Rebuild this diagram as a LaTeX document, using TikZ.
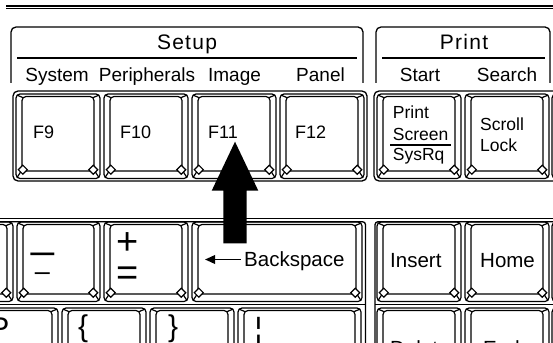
\documentclass[tikz,border=0pt]{standalone}
\usepackage{fontspec}
\setmainfont{Liberation Sans}
\usetikzlibrary{arrows.meta,calc}
\newcommand\kbkey[4]{%
  \draw[keyline,rounded corners=4pt] (#1,#2) rectangle (#3,#4);
  \draw[keyline,rounded corners=4pt] (#1+6,#2+2.5) rectangle (#3-6,#4-7.5);
  \draw[keyline] (#1+1.2,#2+1.2) -- (#1+7.2,#2+3.7);
  \draw[keyline] (#3-1.2,#2+1.2) -- (#3-7.2,#2+3.7);
  \draw[keyline] (#1+1.2,#4-1.2) -- (#1+4.6,#4-6.5);
  \draw[keyline] (#3-1.2,#4-1.2) -- (#3-4.6,#4-6.5);
  \filldraw[keyline,fill=white] (#1+2.3,#4-8.8) -- (#1+6.8,#4-4.3) -- (#1+11.3,#4-8.8) -- (#1+6.8,#4-13.3) -- cycle;
  \filldraw[keyline,fill=white] (#3-2.3,#4-8.8) -- (#3-6.8,#4-4.3) -- (#3-11.3,#4-8.8) -- (#3-6.8,#4-13.3) -- cycle;
}
\begin{document}
\begin{tikzpicture}[x=1pt,y=-1pt,
  keyline/.style={line width=1.2pt,black},
  frame/.style={line width=1.3pt,black},
  sep/.style={line width=1.9pt,black},
  lbl/.style={inner sep=0pt,font=\fontsize{19}{19}\selectfont},
  head/.style={inner sep=0pt,font=\fontsize{21}{21}\selectfont\addfontfeature{LetterSpace=6}},
  fkey/.style={inner sep=0pt,anchor=base west,font=\fontsize{18}{18}\selectfont},
  skey/.style={inner sep=0pt,anchor=base west,font=\fontsize{17.5}{17.5}\selectfont},
  bkey/.style={inner sep=0pt,anchor=base west,font=\fontsize{20.5}{20.5}\selectfont},
  sym/.style={inner sep=0pt}]
\useasboundingbox (0,0) rectangle (553,342);
\clip (0,0) rectangle (553,342);
\fill[white] (0,0) rectangle (553,342);

% top double rule
\draw[line width=2pt] (6,5.7) -- (560,5.7);
\draw[line width=1.1pt] (6,8.4) -- (560,8.4);

% Setup / Print brackets
\draw[frame,rounded corners=5pt] (11,83) -- (11,27) -- (363,27) -- (363,83);
\draw[frame,rounded corners=5pt] (376,83) -- (376,27) -- (550,27) -- (550,83);
\draw[sep] (17,58) -- (357,58);
\draw[sep] (382,58) -- (545,58);
\node[head,anchor=base] (setup) at (187,50) {Setup};
\node[head,anchor=base] (print) at (464,50) {Print};
\node[lbl,anchor=base] (system) at (57,81.7) {System};
\node[lbl,anchor=base] (periph) at (147,81.7) {Peripherals};
\node[lbl,anchor=base] (image) at (234.5,81.7) {Image};
\node[lbl,anchor=base] (panel) at (320.5,81.7) {Panel};
\node[lbl,anchor=base] (start) at (420,81.7) {Start};
\node[lbl,anchor=base] (search) at (507,81.7) {Search};

% F row
\draw[frame,rounded corners=5pt] (13,91) rectangle (367,181);
\draw[frame,rounded corners=5pt] (374,91) rectangle (570,181);
\kbkey{16}{94}{100}{178.5}
\kbkey{104}{94}{188}{178.5}
\kbkey{192}{94}{276}{178.5}
\kbkey{280}{94}{364}{178.5}
\kbkey{377}{94}{461}{178.5}
\kbkey{465}{94}{549}{178.5}
\kbkey{552}{94}{636}{178.5}
\node[fkey] (f9) at (33,138) {F9};
\node[fkey] (f10) at (120,138) {F10};
\node[fkey] (f11) at (208,138) {F11};
\node[fkey] (f12) at (295,138) {F12};
\node[skey] (prt) at (392.7,118.3) {Print};
\node[skey] (scr) at (392.7,140) {Screen};
\node[skey] (sysrq) at (392.7,160) {SysRq};
\draw[line width=1.5pt] (390,145) -- (451,145);
\node[skey] (scroll) at (480,130) {Scroll};
\node[skey] (lock) at (480,151.7) {Lock};

% rows 2-3 frame
\draw[line width=1.1pt] (-5,218.3) -- (560,218.3);
\draw[frame,rounded corners=3pt] (-5,221.7) -- (365.5,221.7) -- (365.5,350);
\draw[frame,rounded corners=3pt] (560,221.7) -- (375,221.7) -- (375,350);
\draw[frame] (-5,304.5) -- (365.5,304.5);
\draw[frame] (375,304.5) -- (560,304.5);

% row 2
\kbkey{-71}{222}{13}{301.5}
\kbkey{17}{222}{100}{301.5}
\kbkey{104}{222}{188}{301.5}
\kbkey{192}{222}{362}{301.5}
\kbkey{377}{222}{461}{301.5}
\kbkey{465}{222}{549}{301.5}
\kbkey{552}{222}{636}{301.5}
\node[sym,font=\fontsize{41}{41}\selectfont] (under) at (43.3,251.7) {\_};
\node[sym,font=\fontsize{27}{27}\selectfont] (minus) at (42.5,276.7) {–};
\node[sym,font=\fontsize{38}{38}\selectfont] (plus) at (127.5,244) {+};
\node[sym,font=\fontsize{38}{38}\selectfont] (equal) at (128,276) {=};
\node[bkey] (bksp) at (244,266.7) {Backspace};
\coordinate (bkarrowstart) at (240.5,259.5);
\coordinate (bkarrowend) at (205,259.5);
\draw[line width=1.8pt,-{Triangle[length=10pt,width=8.5pt]}] (bkarrowstart) -- (bkarrowend);
\node[bkey] (insert) at (390,267.3) {Insert};
\node[bkey] (home) at (480,267.3) {Home};

% row 3
\kbkey{-30}{308}{58}{400}
\kbkey{62}{308}{146}{400}
\kbkey{150}{308}{234}{400}
\kbkey{238}{308}{361}{400}
\kbkey{377}{308}{461}{400}
\kbkey{465}{308}{549}{400}
\kbkey{552}{308}{636}{400}
\node[sym,anchor=north east,font=\fontsize{30}{30}\selectfont] (pkey) at (9.5,318) {P};
\node[sym,anchor=north west,font=\fontsize{30}{30}\selectfont] (lbrace) at (78,315) {\{};
\node[sym,anchor=north west,font=\fontsize{30}{30}\selectfont] (rbrace) at (168,315) {\}};
\node[sym,anchor=north,font=\fontsize{32}{32}\selectfont] (bbar) at (258.5,316.7) {¦};
\node[bkey] (delete) at (390,355) {Delete};
\node[bkey] (endk) at (483,355) {End};

% big arrow from Backspace to F11
\coordinate (bigtip) at (235,141.7);
\coordinate (bigtail) at (235,243.3);
\fill[black] (bigtip) -- ($(bigtip)+(23.3,49)$) -- ($(bigtip)+(11.7,49)$) -- ($(bigtail)+(11.7,0)$)
  -- ($(bigtail)+(-11.7,0)$) -- ($(bigtip)+(-11.7,49)$) -- ($(bigtip)+(-23.3,49)$) -- cycle;
\end{tikzpicture}
\end{document}
